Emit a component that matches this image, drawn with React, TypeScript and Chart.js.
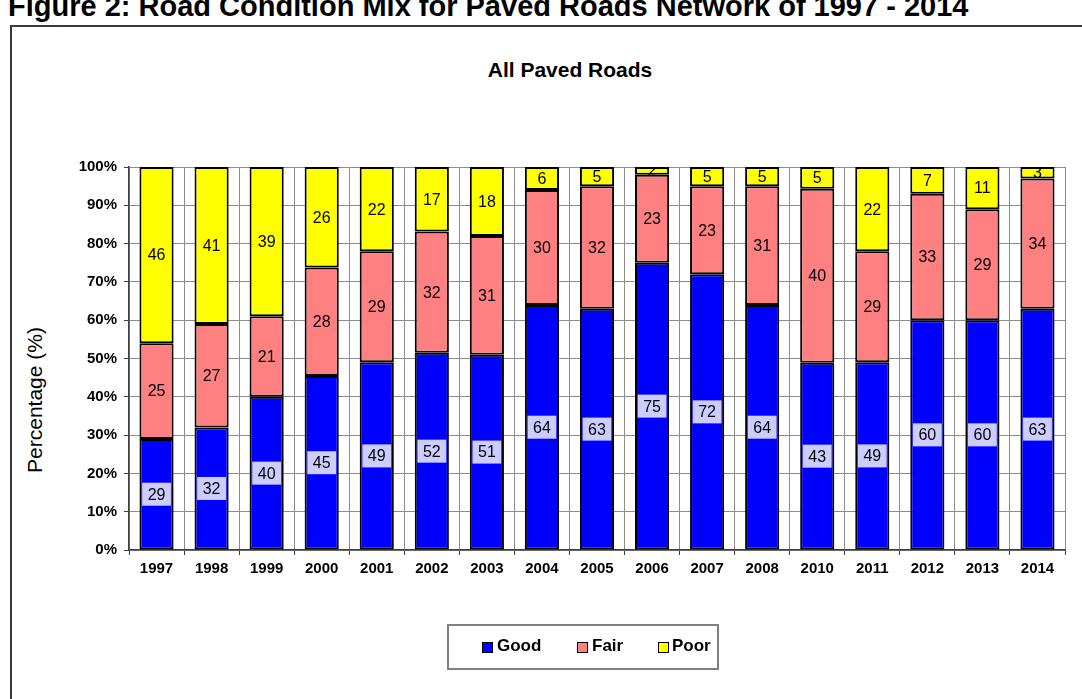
import React, { useEffect, useRef } from "react";
import { Chart, registerables } from "chart.js";

Chart.register(...registerables);

const years = ["1997", "1998", "1999", "2000", "2001", "2002", "2003", "2004", "2005", "2006", "2007", "2008", "2010", "2011", "2012", "2013", "2014"];
const good = [29, 32, 40, 45, 49, 52, 51, 64, 63, 75, 72, 64, 43, 49, 60, 60, 63];
const fair = [25, 27, 21, 28, 29, 32, 31, 30, 32, 23, 23, 31, 40, 29, 33, 29, 34];
const poor = [46, 41, 39, 26, 22, 17, 18, 6, 5, 2, 5, 5, 5, 22, 7, 11, 3];
const seriesNames = ["Good", "Fair", "Poor"];
const seriesColors = ["#0000ff", "#ff8080", "#ffff00"];
const yTickValues = [0, 10, 20, 30, 40, 50, 60, 70, 80, 90, 100];

const rawSeries = [good, fair, poor];
const totals = years.map((_, i) => good[i] + fair[i] + poor[i]);
const toPct = (arr: number[]) => arr.map((v, i) => (v / totals[i]) * 100);

const FONT = "'Liberation Sans', Arial, Helvetica, sans-serif";

const labelPlugin = {
  id: "segLabels",
  afterDatasetsDraw(chart: any) {
    const { ctx, chartArea } = chart;
    ctx.save();
    ctx.beginPath();
    ctx.rect(chartArea.left, chartArea.top, chartArea.right - chartArea.left, chartArea.bottom - chartArea.top);
    ctx.clip();
    ctx.font = `16px ${FONT}`;
    ctx.textAlign = "center";
    ctx.textBaseline = "middle";
    chart.data.datasets.forEach((_ds: any, di: number) => {
      const meta = chart.getDatasetMeta(di);
      meta.data.forEach((el: any, i: number) => {
        const text = String(rawSeries[di][i]);
        const x = el.x;
        const y = (el.y + el.base) / 2;
        if (di === 0) {
          const w = ctx.measureText(text).width + 11;
          const h = 23;
          ctx.fillStyle = "#ccccff";
          ctx.fillRect(x - w / 2, y - h / 2, w, h);
        }
        ctx.fillStyle = "#000";
        ctx.fillText(text, x, y + 1);
      });
    });
    ctx.restore();
  },
};

export default function App() {
  const canvasRef = useRef<HTMLCanvasElement | null>(null);

  useEffect(() => {
    if (!canvasRef.current) return;
    const chart = new Chart(canvasRef.current, {
      type: "bar",
      data: {
        labels: years,
        datasets: rawSeries.map((arr, di) => ({
          label: seriesNames[di],
          data: toPct(arr),
          backgroundColor: seriesColors[di],
          borderColor: "#000",
          borderWidth: 2,
          borderSkipped: false,
          barPercentage: 0.62,
          categoryPercentage: 1,
        })),
      },
      options: {
        responsive: false,
        animation: false,
        layout: { padding: { left: 69, right: 17, top: 167, bottom: 0 } },
        plugins: {
          legend: { display: false },
          title: { display: false },
          tooltip: { enabled: false },
        },
        scales: {
          x: {
            stacked: true,
            offset: true,
            grid: {
              offset: true,
              color: "#8c8c8c",
              lineWidth: 1,
              tickLength: 5,
              tickColor: "#404040",
            },
            border: { color: "#404040", width: 1.5 },
            ticks: {
              color: "#000",
              font: { family: FONT, size: 15, weight: "bold" },
              padding: 5,
              maxRotation: 0,
            },
            afterFit: (s: any) => {
              s.height = 149;
            },
          },
          y: {
            stacked: true,
            min: 0,
            max: 100,
            afterBuildTicks: (s: any) => {
              s.ticks = yTickValues.map((v) => ({ value: v }));
            },
            grid: {
              color: "#8c8c8c",
              lineWidth: 1,
              tickLength: 5,
              tickColor: "#404040",
            },
            border: { color: "#404040", width: 1.5 },
            ticks: {
              color: "#000",
              font: { family: FONT, size: 15, weight: "bold" },
              padding: 7,
              callback: (v: any) => `${v}%`,
            },
            afterFit: (s: any) => {
              s.width = 60;
            },
          },
        },
      },
      plugins: [labelPlugin],
    });
    return () => chart.destroy();
  }, []);

  const legendItems = [
    { name: seriesNames[0], color: seriesColors[0], sq: 33, tx: 48 },
    { name: seriesNames[1], color: seriesColors[1], sq: 128, tx: 143 },
    { name: seriesNames[2], color: seriesColors[2], sq: 209, tx: 223 },
  ];

  return (
    <div
      style={{
        position: "absolute",
        left: 0,
        top: 0,
        width: 1082,
        height: 699,
        overflow: "hidden",
        background: "#fff",
        fontFamily: FONT,
        color: "#000",
      }}
    >
      <div
        style={{
          position: "absolute",
          left: 10,
          top: 25,
          width: 1100,
          height: 720,
          border: "2px solid #3a3a3a",
        }}
      />
      <div
        style={{
          position: "absolute",
          left: 8,
          top: -8,
          fontSize: 29,
          lineHeight: "28px",
          fontWeight: "bold",
          whiteSpace: "nowrap",
        }}
      >
        Figure 2: Road Condition Mix for Paved Roads Network of 1997 - 2014
      </div>
      <div
        style={{
          position: "absolute",
          left: 370,
          width: 400,
          top: 57,
          textAlign: "center",
          fontSize: 21,
          lineHeight: "26px",
          fontWeight: "bold",
          whiteSpace: "nowrap",
        }}
      >
        All Paved Roads
      </div>
      <div
        style={{
          position: "absolute",
          left: 35,
          top: 400,
          transform: "translate(-50%, -50%) rotate(-90deg)",
          fontSize: 21,
          lineHeight: "24px",
          whiteSpace: "nowrap",
        }}
      >
        Percentage (%)
      </div>
      <canvas
        ref={canvasRef}
        width={1082}
        height={699}
        style={{ position: "absolute", left: 0, top: 0, width: 1082, height: 699 }}
      />
      <div
        style={{
          position: "absolute",
          left: 447,
          top: 624,
          width: 268,
          height: 42,
          border: "2px solid #808080",
        }}
      >
        {legendItems.map((it) => (
          <React.Fragment key={it.name}>
            <div
              style={{
                position: "absolute",
                left: it.sq,
                top: 16,
                width: 9,
                height: 9,
                background: it.color,
                border: "1px solid #000",
              }}
            />
            <div
              style={{
                position: "absolute",
                left: it.tx,
                top: 9,
                fontSize: 17,
                lineHeight: "22px",
                fontWeight: "bold",
                whiteSpace: "nowrap",
              }}
            >
              {it.name}
            </div>
          </React.Fragment>
        ))}
      </div>
    </div>
  );
}
